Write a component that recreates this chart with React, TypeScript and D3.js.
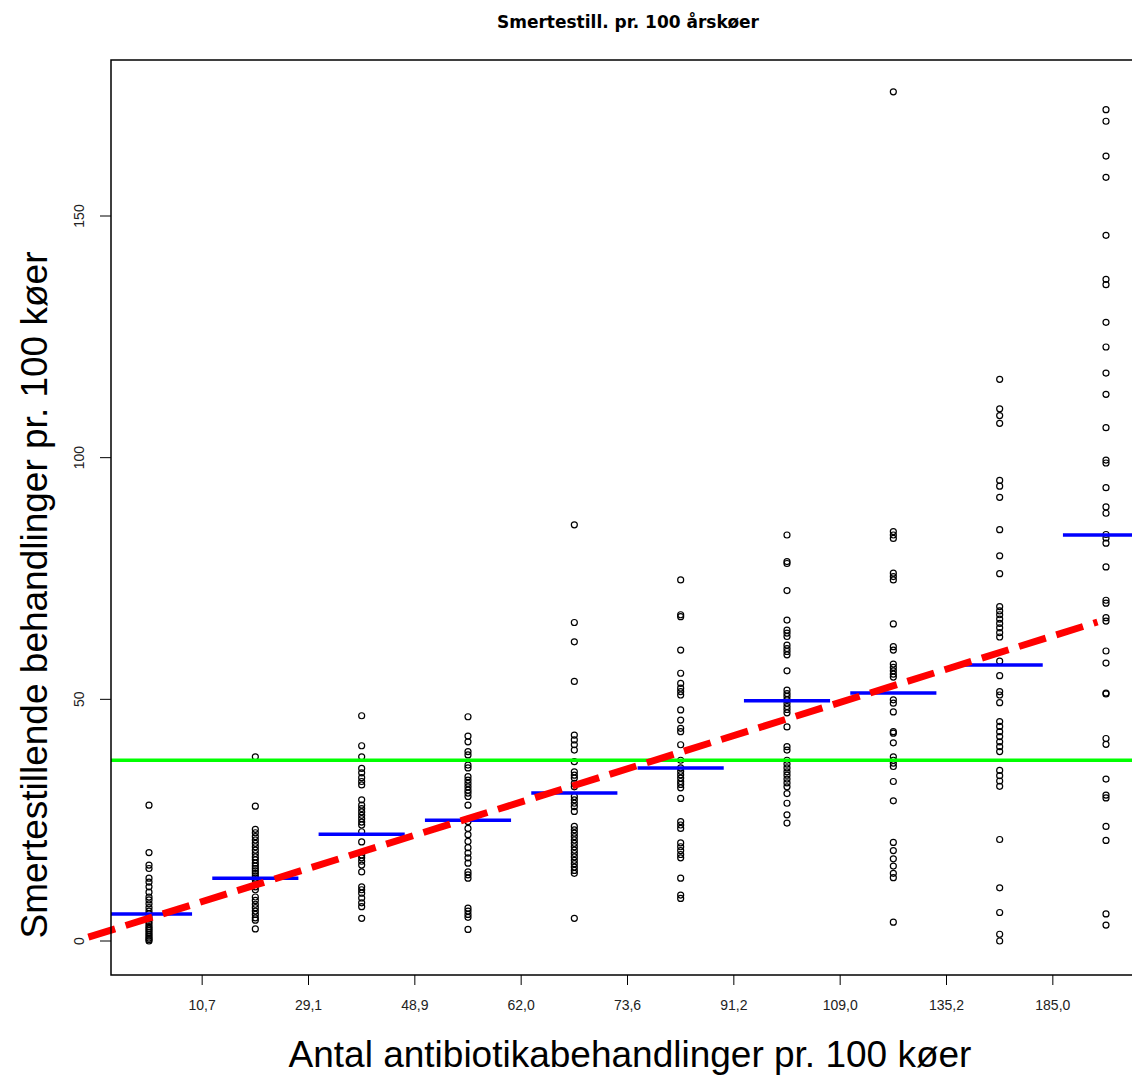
import { scaleLinear } from 'd3'

const title = 'Smertestill. pr. 100 årskøer'
const xTitle = 'Antal antibiotikabehandlinger pr. 100 køer'
const yTitle = 'Smertestillende behandlinger pr. 100 køer'

// tick labels sit between the groups (class limits)
const xTickLabels = ['10,7', '29,1', '48,9', '62,0', '73,6', '91,2', '109,0', '135,2', '185,0']
const yTicks = [0, 50, 100, 150]

const group1 = [28.1, 18.3, 15.7, 15.0, 13.0, 12.2, 11.2, 10.1, 9.1, 8.5, 7.7, 6.9, 6.2, 5.6, 5.0, 4.5, 4.0, 3.5, 3.0, 2.6, 2.2, 1.8, 1.4, 1.0, 0.6, 0.3, 0]
const group2 = [38.1, 27.9, 23.1, 22.4, 21.6, 20.9, 20.2, 19.5, 18.8, 18.1, 17.4, 16.8, 16.1, 15.5, 15.0, 14.5, 14.0, 13.5, 13.0, 12.6, 11.2, 10.6, 9.1, 8.4, 7.6, 6.9, 6.2, 5.5, 4.8, 4.3, 2.5]
const group3 = [46.6, 40.4, 38.1, 35.7, 34.8, 33.8, 33.0, 32.3, 29.2, 28.1, 27.4, 26.7, 26.0, 25.3, 24.6, 24.0, 22.6, 20.5, 17.8, 17.2, 16.5, 15.7, 14.3, 11.2, 10.6, 9.9, 8.9, 7.9, 7.1, 4.7]
const group4 = [46.4, 42.4, 41.2, 39.2, 38.5, 36.4, 35.8, 34.0, 33.3, 32.6, 31.9, 31.2, 30.6, 29.9, 28.1, 24.7, 23.3, 22.0, 20.6, 19.3, 18.2, 17.2, 16.1, 14.3, 13.7, 13.0, 6.8, 6.2, 5.5, 4.9, 2.4]
const group5 = [86.1, 65.9, 61.9, 53.7, 42.6, 41.6, 40.6, 39.5, 37.1, 35.0, 34.3, 33.7, 32.6, 31.9, 29.9, 29.2, 28.5, 27.8, 26.8, 23.7, 23.0, 22.3, 21.6, 20.9, 20.2, 19.5, 18.8, 18.1, 17.4, 16.7, 16.0, 15.3, 14.6, 14.0, 4.7]
const group6 = [74.7, 67.5, 67.1, 60.2, 55.4, 53.3, 52.3, 51.6, 50.9, 47.8, 45.7, 44.0, 43.3, 40.6, 37.4, 35.8, 35.1, 34.4, 33.7, 33.0, 32.4, 31.7, 29.5, 24.7, 24.0, 23.3, 20.3, 19.5, 18.7, 17.9, 17.2, 13.0, 9.5, 8.8]
const group7 = [84.0, 78.5, 78.1, 72.5, 66.4, 64.3, 63.7, 63.0, 61.2, 60.5, 59.9, 59.2, 55.9, 51.9, 51.2, 50.6, 49.9, 49.2, 48.5, 47.9, 47.2, 44.3, 40.2, 39.5, 37.4, 36.6, 35.8, 35.0, 34.3, 33.5, 32.7, 31.9, 30.5, 28.5, 26.1, 24.4]
const group8 = [175.7, 84.7, 84.0, 83.3, 76.1, 75.4, 74.7, 65.6, 60.9, 60.2, 57.3, 56.6, 55.9, 55.2, 54.6, 49.9, 49.2, 47.4, 43.3, 43.0, 41.0, 38.1, 37.4, 36.8, 36.1, 33.0, 29.0, 20.4, 18.7, 17.0, 15.5, 14.0, 13.1, 3.9]
const group9 = [116.2, 110.1, 108.7, 107.1, 95.3, 94.1, 91.8, 85.1, 79.7, 76.0, 69.2, 68.3, 67.5, 66.6, 65.7, 64.8, 63.8, 62.9, 57.9, 54.9, 51.6, 50.9, 49.3, 45.4, 44.4, 43.3, 42.3, 41.2, 40.2, 39.2, 35.3, 34.2, 33.1, 32.0, 21.0, 11.0, 5.9, 1.4, 0]
const group10 = [172.0, 169.6, 162.4, 158.0, 146.0, 136.9, 135.8, 128.0, 122.9, 117.5, 113.1, 106.2, 99.5, 98.9, 93.8, 89.8, 88.5, 84.1, 83.4, 82.3, 77.4, 70.5, 69.9, 66.9, 66.2, 60.0, 57.5, 51.3, 51.1, 41.9, 40.7, 33.5, 30.2, 29.6, 23.7, 20.8, 5.6, 3.3]

const groups = [group1, group2, group3, group4, group5, group6, group7, group8, group9, group10]
const medians = [5.6, 13.0, 22.1, 25.0, 30.6, 35.8, 49.7, 51.3, 57.1, 84.0]
const overallMean = 37.4
// fitted trend, given as group position -> value
const trendX = [0.43, 9.92]
const trendY = [0.8, 66.0]

const W = 1132
const H = 1076
const box = { left: 111, top: 60, right: 1146, bottom: 975 }
const font = '"Liberation Sans", Arial, sans-serif'

export default function App() {
  const x = scaleLinear().domain([1, 10]).range([149, 1106])
  const y = scaleLinear().domain([0, 150]).range([941, 216])

  return (
    <svg
      width={W}
      height={H}
      style={{ position: 'absolute', left: 0, top: 0, background: '#fff' }}
      fontFamily={font}
    >
      <defs>
        <clipPath id="plot">
          <rect x={box.left} y={box.top} width={box.right - box.left} height={box.bottom - box.top} />
        </clipPath>
      </defs>

      <text
        x={628}
        y={28}
        textAnchor="middle"
        fontSize={17}
        fontWeight="bold"
        fontFamily='"DejaVu Sans", Verdana, sans-serif'
      >
        {title}
      </text>

      {/* points */}
      {groups.map((vals, i) =>
        vals.map((v, j) => (
          <circle key={`${i}-${j}`} cx={x(i + 1)} cy={y(v)} r={3} fill="none" stroke="#000" strokeWidth={1.2} />
        ))
      )}

      <g clipPath="url(#plot)">
        <line x1={box.left} x2={box.right} y1={y(overallMean)} y2={y(overallMean)} stroke="#00ff00" strokeWidth={3.5} />
        {medians.map((m, i) => (
          <line
            key={i}
            x1={x(i + 1 - 0.405)}
            x2={x(i + 1 + 0.405)}
            y1={y(m)}
            y2={y(m)}
            stroke="#0000ff"
            strokeWidth={3.5}
          />
        ))}
      </g>

      <line
        x1={x(trendX[0])}
        x2={x(trendX[1])}
        y1={y(trendY[0])}
        y2={y(trendY[1])}
        stroke="#ff0000"
        strokeWidth={7}
        strokeDasharray="28 11"
      />

      <rect
        x={box.left}
        y={box.top}
        width={box.right - box.left}
        height={box.bottom - box.top}
        fill="none"
        stroke="#000"
        strokeWidth={1.5}
      />

      {/* y axis */}
      {yTicks.map(t => (
        <g key={t}>
          <line x1={box.left - 11} x2={box.left} y1={y(t)} y2={y(t)} stroke="#000" strokeWidth={1} />
          <text
            transform={`translate(84, ${y(t)}) rotate(-90)`}
            textAnchor="middle"
            fontSize={14}
            fill="#222"
          >
            {t}
          </text>
        </g>
      ))}

      {/* x axis */}
      {xTickLabels.map((lab, i) => (
        <g key={lab}>
          <line x1={x(i + 1.5)} x2={x(i + 1.5)} y1={box.bottom} y2={box.bottom + 10} stroke="#000" strokeWidth={1} />
          <text x={x(i + 1.5)} y={box.bottom + 35} textAnchor="middle" fontSize={14} fill="#222">
            {lab}
          </text>
        </g>
      ))}

      <text x={630} y={1067} textAnchor="middle" fontSize={37}>
        {xTitle}
      </text>
      <text transform="translate(47, 595) rotate(-90)" textAnchor="middle" fontSize={37}>
        {yTitle}
      </text>
    </svg>
  )
}
